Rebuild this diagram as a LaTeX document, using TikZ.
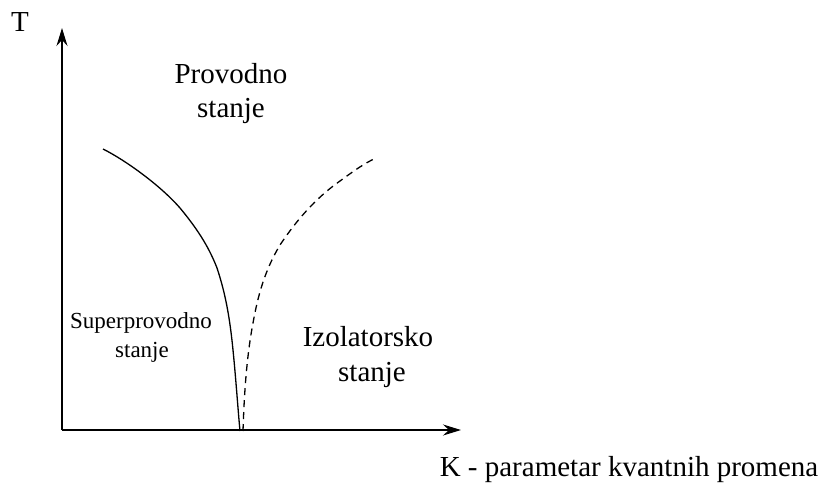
\documentclass[tikz,border=0pt]{standalone}
\usepackage{fontspec}
\setmainfont{Liberation Serif}
\usetikzlibrary{arrows.meta}
\begin{document}
\begin{tikzpicture}[x=1pt,y=-1pt,
  axis/.style={line width=1.6pt,-{Stealth[length=18pt,width=11pt,inset=6pt]}},
  curve/.style={line width=1.3pt},
  big/.style={font=\fontsize{29}{34}\selectfont,anchor=base,inner sep=0pt},
  small/.style={font=\fontsize{23}{28}\selectfont,anchor=base,inner sep=0pt}]
\useasboundingbox (0,0) rectangle (834,487);
\coordinate (O) at (62,430);
\coordinate (Ytip) at (62,28);
\coordinate (Xtip) at (461,430);
\draw[axis] (O) -- (Ytip);
\draw[axis] (O) -- (Xtip);
\node[big] (T) at (20,32) {T};
\node[big] (prov) at (231,83) {Provodno};
\node[big] (provs) at (231,117) {stanje};
\node[small] (sup) at (141,328) {Superprovodno};
\node[small] (sups) at (142,357) {stanje};
\node[big] (izo) at (368,346) {Izolatorsko};
\node[big] (izos) at (372,381) {stanje};
\node[big] (K) at (629,476) {K - parametar kvantnih promena};
\coordinate (c0) at (240,431);
\draw[curve] (103,149) .. controls (125,160) and (160,185) .. (180,208)
  .. controls (200,232) and (210,250) .. (217,268)
  .. controls (226,295) and (230,320) .. (233,350)
  .. controls (236,380) and (238,410) .. (c0);
\draw[curve,dash pattern=on 7pt off 5pt] (243,431) .. controls (244,400) and (246,360) .. (253,323)
  .. controls (258,295) and (265,270) .. (280,245)
  .. controls (300,215) and (320,195) .. (340,181)
  .. controls (355,170) and (365,163) .. (376,158);
\end{tikzpicture}
\end{document}
